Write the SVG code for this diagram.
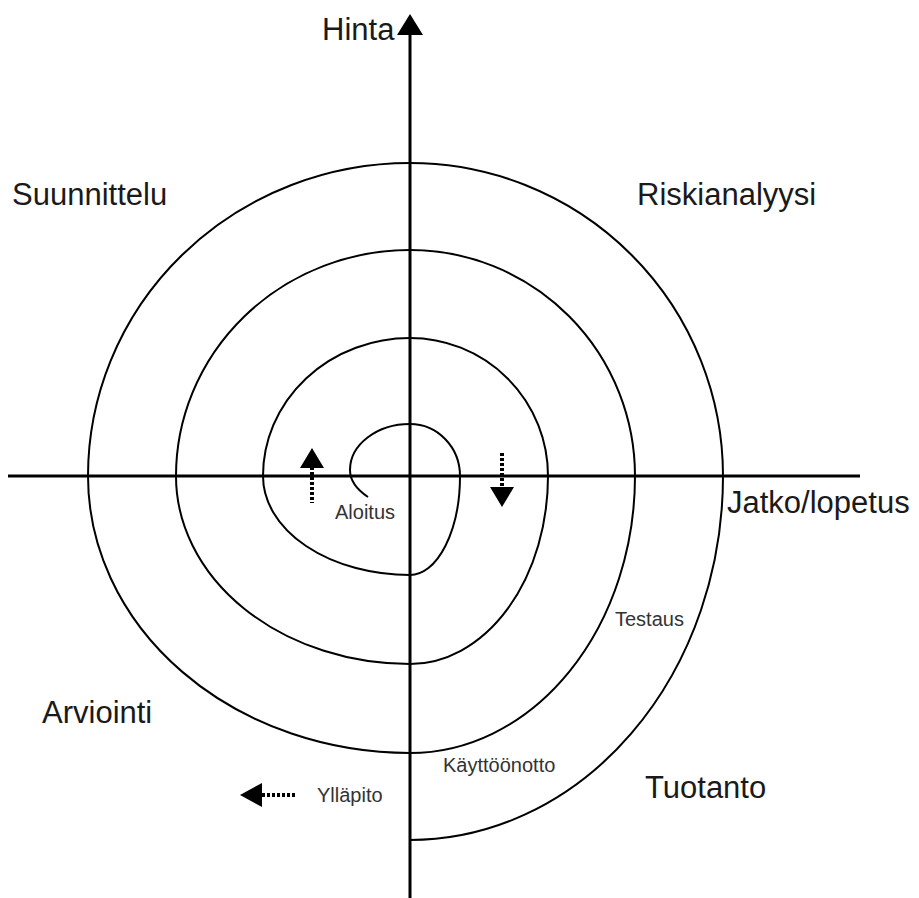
<svg xmlns="http://www.w3.org/2000/svg" width="919" height="898" viewBox="0 0 919 898">
<defs>
<style>
.axis{stroke:#000;stroke-width:3;fill:none}
.spiral{stroke:#000;stroke-width:2;fill:none}
.stem{stroke:#000;stroke-width:4;stroke-dasharray:3 2;fill:none}
.head{fill:#000}
.big{font-family:"Liberation Sans",Arial,sans-serif;font-size:31px;fill:#1a1a1a}
.small{font-family:"Liberation Sans",Arial,sans-serif;font-size:20px;fill:#333}
</style>
</defs>
<rect width="919" height="898" fill="#fff"/>
<g id="connectors">
<line class="axis" x1="410" y1="30" x2="410" y2="898"/>
<polygon class="head" points="410,14 397,35 423,35"/>
<line class="axis" x1="8" y1="476" x2="860" y2="476"/>
<path id="spiral" class="spiral" d="M368,497 Q350,485 350,470 A60 46 0 0 1 410 424 A50 52 0 0 1 460 476 A50 99 0 0 1 410 575 A147 99 0 0 1 263 476 A147 138 0 0 1 410 338 A138 138 0 0 1 548 476 A138 188 0 0 1 410 664 A234 188 0 0 1 176 476 A234 226 0 0 1 410 250 A225 226 0 0 1 635 476 A225 277 0 0 1 410 753 A322 277 0 0 1 88 476 A322 313 0 0 1 410 163 A313 313 0 0 1 723 476 A313 364 0 0 1 410 840"/>
</g>
<g id="arrow-up">
<line class="stem" x1="312" y1="467" x2="312" y2="503"/>
<polygon class="head" points="312,448 300,468 324,468"/>
</g>
<g id="arrow-down">
<line class="stem" x1="502" y1="453" x2="502" y2="488"/>
<polygon class="head" points="502,507 490,487 514,487"/>
</g>
<g id="arrow-left">
<line class="stem" x1="262" y1="795" x2="296" y2="795"/>
<polygon class="head" points="240,795 262,783 262,807"/>
</g>
<g id="labels">
<text class="big" x="322" y="40">Hinta</text>
<text class="big" x="12" y="205">Suunnittelu</text>
<text class="big" x="637" y="205">Riskianalyysi</text>
<text class="big" x="727" y="513">Jatko/lopetus</text>
<text class="big" x="42" y="723">Arviointi</text>
<text class="big" x="645" y="798">Tuotanto</text>
<text class="small" x="335" y="519">Aloitus</text>
<text class="small" x="615" y="626">Testaus</text>
<text class="small" x="443" y="772">Käyttöönotto</text>
<text class="small" x="317" y="802">Ylläpito</text>
</g>
</svg>
